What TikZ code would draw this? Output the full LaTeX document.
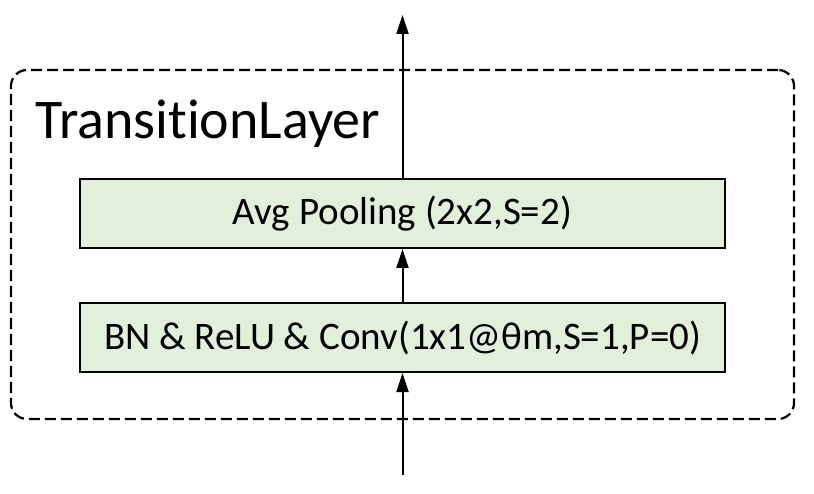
\documentclass[tikz,border=0pt]{standalone}
\usepackage{fontspec}
\setmainfont{Carlito}[Ligatures={NoCommon,NoRequired,NoContextual}]
\usetikzlibrary{arrows.meta}
\definecolor{boxfill}{HTML}{E2EFDA}
\tikzset{
  layerbox/.style={draw=black, line width=2pt, fill=boxfill, minimum width=645pt, minimum height=69pt, inner sep=0pt, font=\fontsize{39}{45}\selectfont},
  framebox/.style={draw=black, line width=2.2pt, dash pattern=on 11pt off 5pt, rounded corners=16pt, minimum width=783pt, minimum height=349pt, inner sep=0pt},
  arr/.style={line width=2pt, -{Triangle[length=19pt,width=12pt]}}
}
\begin{document}
\begin{tikzpicture}[x=1pt,y=-1pt]
\useasboundingbox (0,0) rectangle (814,494);
\node[framebox] (frame) at (402.5,244.5) {};
\node[anchor=base west, inner sep=0pt, font=\fontsize{56}{62}\selectfont] (title) at (35,139) {TransitionLayer};
\node[layerbox] (pool) at (402.5,213.5) {Avg Pooling (2x2,S=2)};
\node[layerbox] (conv) at (402.5,337.5) {BN \& ReLU \& Conv(1x1@θm,S=1,P=0)};
\coordinate (top) at (402.5,15);
\coordinate (bottom) at (402.5,475);
\draw[arr] (bottom) -- (conv.south);
\draw[arr] (conv.north) -- (pool.south);
\draw[arr] (pool.north) -- (top);
\end{tikzpicture}
\end{document}
